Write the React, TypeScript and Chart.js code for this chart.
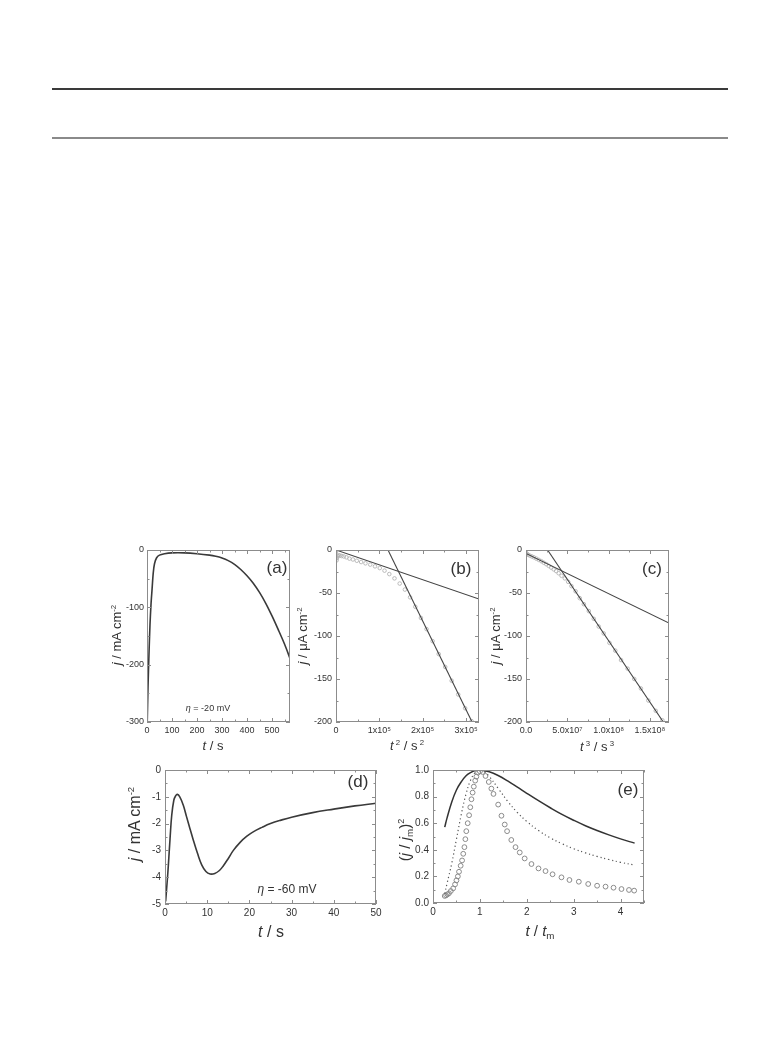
import React, { useEffect, useRef } from "react";
import { Chart, registerables } from "chart.js";
Chart.register(...registerables);

const FONT = "'Liberation Sans', Arial, Helvetica, sans-serif";

// ---------- Panel (a): j (mA cm-2) vs t (s), eta = -20 mV ----------
const aTime = [1, 4, 8, 12, 16, 20, 25, 30, 38, 50, 70, 100, 150, 200, 250, 275, 300, 325, 350, 375, 400, 425, 450, 475, 500, 525, 550, 572];
const aCurrent = [-300, -240, -180, -130, -95, -70, -40, -24, -14, -9, -6.5, -5, -5, -6.5, -9, -11, -14, -18.5, -25, -34, -45, -58, -74, -93, -115, -139, -164, -189];
const aXTicks = [0, 100, 200, 300, 400, 500];
const aXLabels = ["0", "100", "200", "300", "400", "500"];
const aYTicks = [-300, -200, -100, 0];
const aYLabels = ["-300", "-200", "-100", "0"];

// ---------- Panel (b): j (uA cm-2) vs t^2 ----------
const bT2 = [0, 0, 300, 800, 1500, 2500, 4000, 6000, 9000, 13000, 18000, 24000, 31000, 39000, 48000, 58000, 68000, 79000, 90000, 101000, 112000, 123000, 135000, 147000, 159000, 171000, 183000, 196000, 209000, 223000, 237000, 252000, 267000, 282000, 298000, 313000];
const bJ = [-1, -4, -7, -10, -12, -9, -7, -6, -6.5, -7, -7.5, -8.5, -10, -11, -12.5, -14, -15.5, -17, -19, -21, -24, -28, -33, -39, -46, -55, -66, -79, -92, -106, -121, -136, -152, -168, -184, -199];
const bFit1X = [0, 330000];
const bFit1Y = [0, -57];
const bFit2X = [120000, 314000];
const bFit2Y = [0, -200];
const bXTicks = [0, 100000, 200000, 300000];
const bXLabels = ["0", "1x10\u2075", "2x10\u2075", "3x10\u2075"];
const bcYTicks = [-200, -150, -100, -50, 0];
const bcYLabels = ["-200", "-150", "-100", "-50", "0"];

// ---------- Panel (c): j (uA cm-2) vs t^3 ----------
const cT3 = [0, 2e5, 1e6, 2.5e6, 4.5e6, 7e6, 9.5e6, 1.25e7, 1.55e7, 1.85e7, 2.15e7, 2.45e7, 2.75e7, 3.05e7, 3.35e7, 3.65e7, 3.95e7, 4.3e7, 4.7e7, 5.1e7, 5.5e7, 6.0e7, 6.5e7, 7.0e7, 7.6e7, 8.2e7, 8.8e7, 9.4e7, 1.01e8, 1.08e8, 1.15e8, 1.23e8, 1.31e8, 1.39e8, 1.48e8, 1.57e8, 1.65e8];
const cJ = [-3, -4, -4.5, -5.5, -6.5, -7.5, -8.5, -10, -11.5, -13, -14.8, -16.5, -18.5, -20.5, -22.5, -24.5, -27, -30, -33, -37, -42, -48, -56, -63, -71, -80, -89, -97, -108, -117, -128, -138, -150, -161, -175, -187, -198];
const cFit1X = [0, 1.73e8];
const cFit1Y = [-4, -85];
const cFit2X = [2.61e7, 1.661e8];
const cFit2Y = [0, -200];
const cXTicks = [0, 5e7, 1e8, 1.5e8];
const cXLabels = ["0.0", "5.0x10\u2077", "1.0x10\u2078", "1.5x10\u2078"];

// ---------- Panel (d): j (mA cm-2) vs t (s), eta = -60 mV ----------
const dTime = [0.15, 0.5, 0.8, 1.2, 1.6, 2.1, 2.5, 2.9, 3.5, 4.3, 5.1, 5.9, 6.7, 7.7, 8.7, 9.7, 10.7, 11.8, 12.9, 13.8, 15, 16.2, 17.8, 19.4, 21, 23, 25, 27.5, 30, 35, 40, 45, 50];
const dCurrent = [-4.9, -4.2, -3.54, -2.55, -1.68, -1.12, -0.97, -0.91, -1.0, -1.3, -1.74, -2.18, -2.61, -3.11, -3.54, -3.79, -3.88, -3.86, -3.75, -3.58, -3.3, -3.0, -2.7, -2.47, -2.3, -2.14, -2.0, -1.87, -1.76, -1.59, -1.46, -1.34, -1.24];
const dXTicks = [0, 10, 20, 30, 40, 50];
const dXLabels = ["0", "10", "20", "30", "40", "50"];
const dYTicks = [-5, -4, -3, -2, -1, 0];
const dYLabels = ["-5", "-4", "-3", "-2", "-1", "0"];

// ---------- Panel (e): (j/jm)^2 vs t/tm ----------
const eInstX = [0.25, 0.3, 0.4, 0.5, 0.6, 0.7, 0.8, 0.9, 1.0, 1.2, 1.4, 1.6, 1.8, 2.0, 2.25, 2.5, 2.75, 3.0, 3.25, 3.5, 3.75, 4.0, 4.3];
const eInstY = [0.57, 0.64, 0.76, 0.85, 0.91, 0.955, 0.98, 0.996, 1.0, 0.987, 0.957, 0.916, 0.871, 0.825, 0.769, 0.716, 0.666, 0.622, 0.581, 0.545, 0.512, 0.482, 0.45];
const eProgX = [0.25, 0.3, 0.4, 0.5, 0.6, 0.7, 0.8, 0.9, 1.0, 1.1, 1.2, 1.4, 1.6, 1.8, 2.0, 2.25, 2.5, 2.75, 3.0, 3.25, 3.5, 3.75, 4.0, 4.3];
const eProgY = [0.07, 0.147, 0.298, 0.48, 0.661, 0.814, 0.922, 0.982, 1.0, 0.986, 0.952, 0.857, 0.762, 0.68, 0.613, 0.545, 0.49, 0.446, 0.408, 0.377, 0.35, 0.327, 0.306, 0.285];
const eExpX = [0.25, 0.28, 0.31, 0.34, 0.38, 0.43, 0.47, 0.5, 0.53, 0.555, 0.59, 0.62, 0.645, 0.67, 0.69, 0.71, 0.74, 0.77, 0.795, 0.82, 0.845, 0.87, 0.9, 0.925, 0.96, 1.0, 1.06, 1.12, 1.19, 1.245, 1.29, 1.39, 1.46, 1.53, 1.58, 1.67, 1.76, 1.85, 1.955, 2.1, 2.25, 2.4, 2.55, 2.74, 2.91, 3.11, 3.31, 3.5, 3.68, 3.85, 4.02, 4.18, 4.29];
const eExpY = [0.053, 0.058, 0.065, 0.073, 0.09, 0.11, 0.14, 0.17, 0.2, 0.235, 0.28, 0.32, 0.37, 0.42, 0.48, 0.54, 0.6, 0.66, 0.72, 0.78, 0.83, 0.875, 0.92, 0.95, 0.98, 0.99, 0.985, 0.955, 0.91, 0.86, 0.82, 0.74, 0.656, 0.59, 0.54, 0.474, 0.42, 0.38, 0.335, 0.293, 0.26, 0.24, 0.216, 0.193, 0.173, 0.16, 0.143, 0.13, 0.123, 0.115, 0.105, 0.098, 0.093];
const eXTicks = [0, 1, 2, 3, 4];
const eXLabels = ["0", "1", "2", "3", "4"];
const eYTicks = [0, 0.2, 0.4, 0.6, 0.8, 1.0];
const eYLabels = ["0.0", "0.2", "0.4", "0.6", "0.8", "1.0"];

// ---------- helpers ----------
const pts = (xs: number[], ys: number[]) => xs.map((x, i) => ({ x, y: ys[i] }));

type Box = { x: number; y: number; w: number; h: number };
const PAD = { l: 40, r: 16, t: 10, b: 24 };

const framePlugin = {
  id: "frameTicks",
  afterDatasetsDraw(chart: any) {
    const { ctx, chartArea: ca, scales } = chart;
    ctx.save();
    ctx.strokeStyle = "#8c8c8c";
    ctx.lineWidth = 1;
    ctx.strokeRect(ca.left + 0.5, ca.top + 0.5, ca.right - ca.left - 1, ca.bottom - ca.top - 1);
    const drawAxis = (scale: any, horiz: boolean) => {
      const vals = scale.ticks.map((t: any) => t.value);
      if (vals.length < 2) return;
      const step = (vals[1] - vals[0]) / 2;
      const eps = Math.abs(step) * 1e-6;
      for (let v = vals[0] - step; v <= scale.max + eps; v += step) {
        if (v < scale.min - eps) continue;
        const major = vals.some((t: number) => Math.abs(t - v) < eps * 10);
        const len = major ? 4 : 2.5;
        const p = Math.round(scale.getPixelForValue(v)) + 0.5;
        ctx.beginPath();
        if (horiz) {
          ctx.moveTo(p, ca.bottom); ctx.lineTo(p, ca.bottom - len);
          ctx.moveTo(p, ca.top); ctx.lineTo(p, ca.top + len);
        } else {
          ctx.moveTo(ca.left, p); ctx.lineTo(ca.left + len, p);
          ctx.moveTo(ca.right, p); ctx.lineTo(ca.right - len, p);
        }
        ctx.stroke();
      }
    };
    drawAxis(scales.x, true);
    drawAxis(scales.y, false);
    ctx.restore();
  },
};

function axis(kind: "x" | "y", min: number, max: number, vals: number[], labels: string[], fontSize: number, padPx: number) {
  return {
    type: "linear",
    position: kind === "x" ? "bottom" : "left",
    min,
    max,
    afterBuildTicks: (s: any) => {
      s.ticks = vals.map((v) => ({ value: v }));
    },
    afterFit: (s: any) => {
      if (kind === "x") s.height = PAD.b;
      else s.width = PAD.l;
    },
    grid: { display: false, drawTicks: false },
    border: { display: false },
    ticks: {
      padding: padPx,
      color: "#333",
      autoSkip: false,
      maxRotation: 0,
      font: { family: FONT, size: fontSize },
      callback: (_v: any, i: number) => labels[i],
    },
  };
}

function baseOptions(scales: any) {
  return {
    responsive: false,
    animation: false,
    events: [],
    layout: { padding: { top: PAD.t, right: PAD.r, left: 0, bottom: 0 } },
    plugins: { legend: { display: false }, tooltip: { enabled: false }, title: { display: false } },
    scales,
  };
}

const curve = (data: any, color = "#333", width = 1.6, tension = 0.35) => ({
  data,
  showLine: true,
  borderColor: color,
  borderWidth: width,
  pointRadius: 0,
  tension,
  fill: false,
});

const marks = (data: any, color: string, r: number, bw: number) => ({
  data,
  showLine: false,
  pointRadius: r,
  pointBorderColor: color,
  pointBackgroundColor: "rgba(0,0,0,0)",
  pointBorderWidth: bw,
});

const fitLine = (data: any) => ({
  data,
  showLine: true,
  borderColor: "#444",
  borderWidth: 1.1,
  pointRadius: 0,
  fill: false,
});

function Panel({ box, make }: { box: Box; make: () => any }) {
  const ref = useRef<HTMLCanvasElement>(null);
  const w = box.w + PAD.l + PAD.r;
  const h = box.h + PAD.t + PAD.b;
  useEffect(() => {
    const chart = new Chart(ref.current as HTMLCanvasElement, make());
    return () => chart.destroy();
  }, []);
  return (
    <canvas
      ref={ref}
      width={w}
      height={h}
      style={{ position: "absolute", left: box.x - PAD.l, top: box.y - PAD.t, width: w, height: h }}
    />
  );
}

function Txt({ x, y, size, rot, children }: { x: number; y: number; size: number; rot?: boolean; children: any }) {
  return (
    <div
      style={{
        position: "absolute",
        left: x,
        top: y,
        transform: `translate(-50%, -50%)${rot ? " rotate(-90deg)" : ""}`,
        fontSize: size,
        fontFamily: FONT,
        color: "#333",
        whiteSpace: "nowrap",
        lineHeight: 1,
      }}
    >
      {children}
    </div>
  );
}

const sup = (s: string) => <sup style={{ fontSize: "0.6em", verticalAlign: "0.6em", lineHeight: 0 }}>{s}</sup>;
const sub = (s: string) => <sub style={{ fontSize: "0.65em", verticalAlign: "-0.35em", lineHeight: 0 }}>{s}</sub>;

const A: Box = { x: 147, y: 550, w: 143, h: 172 };
const B: Box = { x: 336, y: 550, w: 143, h: 172 };
const C: Box = { x: 526, y: 550, w: 143, h: 172 };
const D: Box = { x: 165, y: 770, w: 211, h: 134 };
const E: Box = { x: 433, y: 770, w: 211, h: 133 };

export default function App() {
  return (
    <div style={{ position: "absolute", left: 0, top: 0, width: 780, height: 1044, background: "#fff", overflow: "hidden" }}>
      <div style={{ position: "absolute", left: 52, top: 88, width: 676, height: 2, background: "#3a3a3a" }} />
      <div style={{ position: "absolute", left: 52, top: 137, width: 676, height: 2, background: "#8a8a8a" }} />

      <Panel
        box={A}
        make={() => ({
          type: "scatter",
          data: { datasets: [curve(pts(aTime, aCurrent), "#3a3a3a", 1.6, 0.3)] },
          options: baseOptions({
            x: axis("x", 0, 572, aXTicks, aXLabels, 9, 3),
            y: axis("y", -300, 0, aYTicks, aYLabels, 9, 3),
          }),
          plugins: [framePlugin],
        })}
      />
      <Panel
        box={B}
        make={() => ({
          type: "scatter",
          data: {
            datasets: [
              fitLine(pts(bFit1X, bFit1Y)),
              fitLine(pts(bFit2X, bFit2Y)),
              marks(pts(bT2, bJ), "#b4b4b4", 1.8, 0.9),
            ],
          },
          options: baseOptions({
            x: axis("x", 0, 330000, bXTicks, bXLabels, 9, 3),
            y: axis("y", -200, 0, bcYTicks, bcYLabels, 9, 4),
          }),
          plugins: [framePlugin],
        })}
      />
      <Panel
        box={C}
        make={() => ({
          type: "scatter",
          data: {
            datasets: [
              fitLine(pts(cFit1X, cFit1Y)),
              fitLine(pts(cFit2X, cFit2Y)),
              marks(pts(cT3, cJ), "#b4b4b4", 1.8, 0.9),
            ],
          },
          options: baseOptions({
            x: axis("x", 0, 1.73e8, cXTicks, cXLabels, 9, 3),
            y: axis("y", -200, 0, bcYTicks, bcYLabels, 9, 4),
          }),
          plugins: [framePlugin],
        })}
      />
      <Panel
        box={D}
        make={() => ({
          type: "scatter",
          data: { datasets: [curve(pts(dTime, dCurrent), "#3a3a3a", 1.6, 0.4)] },
          options: baseOptions({
            x: axis("x", 0, 50, dXTicks, dXLabels, 10, 3),
            y: axis("y", -5, 0, dYTicks, dYLabels, 10, 4),
          }),
          plugins: [framePlugin],
        })}
      />
      <Panel
        box={E}
        make={() => ({
          type: "scatter",
          data: {
            datasets: [
              curve(pts(eInstX, eInstY), "#333", 1.5, 0.4),
              { ...curve(pts(eProgX, eProgY), "#555", 1.2, 0.4), borderDash: [1.2, 2.8] },
              marks(pts(eExpX, eExpY), "#8a8a8a", 2.4, 1),
            ],
          },
          options: baseOptions({
            x: axis("x", 0, 4.5, eXTicks, eXLabels, 10, 3),
            y: axis("y", 0, 1, eYTicks, eYLabels, 10, 4),
          }),
          plugins: [framePlugin],
        })}
      />

      {/* axis titles */}
      <Txt x={116} y={635} size={13} rot>
        <i>j</i> / mA cm{sup("-2")}
      </Txt>
      <Txt x={213} y={745} size={13}>
        <i>t</i> / s
      </Txt>
      <Txt x={302} y={636} size={13} rot>
        <i>j</i> / μA cm{sup("-2")}
      </Txt>
      <Txt x={407} y={745} size={13}>
        <i>t</i>{sup(" 2")} / s{sup(" 2")}
      </Txt>
      <Txt x={495} y={636} size={13} rot>
        <i>j</i> / μA cm{sup("-2")}
      </Txt>
      <Txt x={597} y={746} size={13}>
        <i>t</i>{sup(" 3")} / s{sup(" 3")}
      </Txt>
      <Txt x={135} y={824} size={16} rot>
        <i>j</i> / mA cm{sup("-2")}
      </Txt>
      <Txt x={271} y={932} size={16}>
        <i>t</i> / s
      </Txt>
      <Txt x={404} y={840} size={15} rot>
        (<i>j</i> / <i>j</i>{sub("m")}){sup("2")}
      </Txt>
      <Txt x={540} y={930} size={15}>
        <i>t</i> / <i>t</i>{sub("m")}
      </Txt>

      {/* panel labels */}
      <Txt x={277} y={567} size={17}>(a)</Txt>
      <Txt x={461} y={568} size={17}>(b)</Txt>
      <Txt x={652} y={568} size={17}>(c)</Txt>
      <Txt x={358} y={781} size={17}>(d)</Txt>
      <Txt x={628} y={789} size={17}>(e)</Txt>

      {/* annotations */}
      <Txt x={208} y={708} size={9}>
        <i>η</i> = -20 mV
      </Txt>
      <Txt x={287} y={889} size={12}>
        <i>η</i> = -60 mV
      </Txt>
    </div>
  );
}
